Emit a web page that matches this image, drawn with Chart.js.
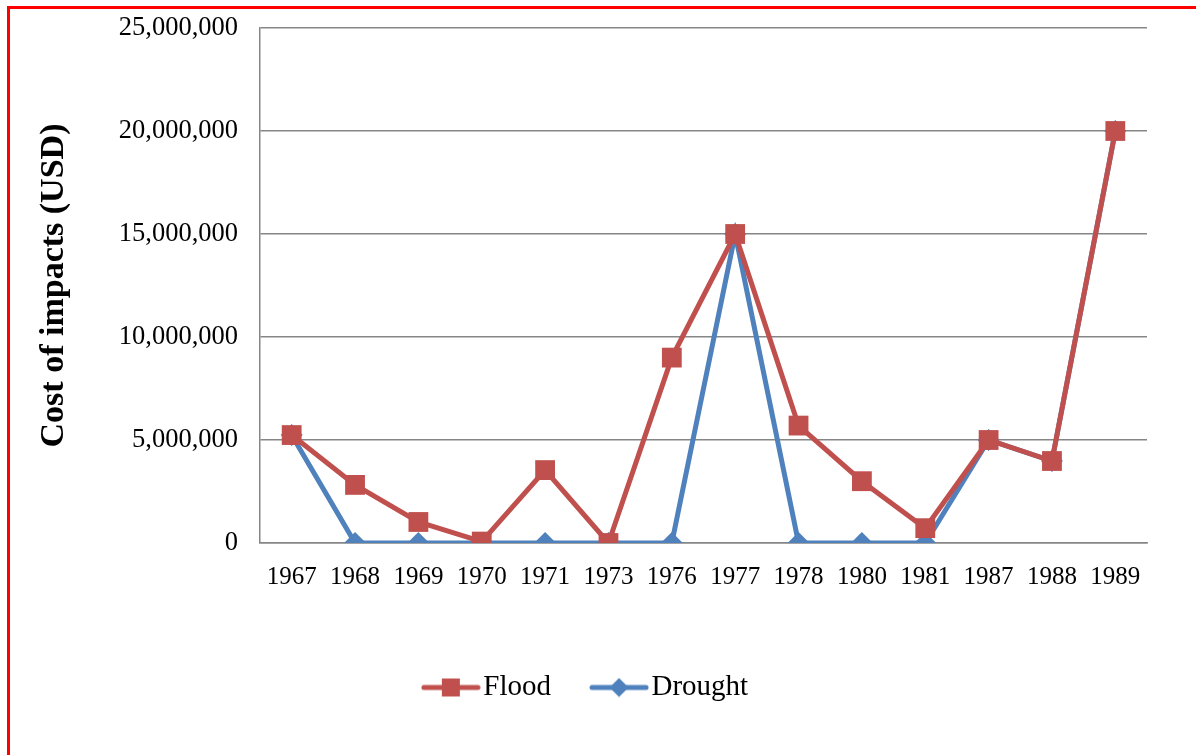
<!DOCTYPE html>
<html>
<head>
<meta charset="utf-8">
<script src="https://cdn.jsdelivr.net/npm/chart.js@4"></script>
<style>
  body { margin: 0; background: #fff; }
  .wrap { position: relative; width: 1196px; height: 755px; overflow: hidden; }
  .frame { position: absolute; left: 7px; top: 6px; width: 1300px; height: 900px; border-left: 3px solid #ff0000; border-top: 3px solid #ff0000; }
  canvas { position: absolute; left: 0; top: 0; }
</style>
</head>
<body>
<div class="wrap">
  <div class="frame"></div>
  <canvas id="myChart" width="1196" height="755"></canvas>
</div>
<script>
// years on the x axis
let years = ['1967','1968','1969','1970','1971','1973','1976','1977','1978','1980','1981','1987','1988','1989'];
// cost of impacts in USD
let flood   = [5240000, 2820000, 1020000, 70000, 3540000, 0, 9000000, 15000000, 5700000, 3000000, 720000, 5000000, 3980000, 20000000];
let drought = [5240000, 0, 0, 0, 0, 0, 0, 15000000, 0, 0, 0, 5000000, 3980000, 20000000];
let yTicks  = [0, 5000000, 10000000, 15000000, 20000000, 25000000];

const floodColor = '#C0504D';
const droughtColor = '#4F81BD';
const serif = "'Liberation Serif', 'Times New Roman', serif";

// little line+marker pictures for the legend
function legendIcon(color, shape) {
    let c = document.createElement('canvas');
    c.width = 60; c.height = 20;
    let g = c.getContext('2d');
    g.strokeStyle = color;
    g.lineWidth = 5;
    g.lineCap = 'round';
    g.beginPath(); g.moveTo(3, 10); g.lineTo(57, 10); g.stroke();
    g.fillStyle = color;
    if (shape === 'square') {
        g.fillRect(21, 1, 18, 18);
    } else {
        g.beginPath();
        g.moveTo(30, 0.5); g.lineTo(39.5, 10); g.lineTo(30, 19.5); g.lineTo(20.5, 10);
        g.closePath(); g.fill();
    }
    return c;
}
const floodIcon = legendIcon(floodColor, 'square');
const droughtIcon = legendIcon(droughtColor, 'diamond');

const data = {
    labels: years,
    datasets: [{
        label: 'Flood',
        data: flood,
        borderColor: floodColor,
        backgroundColor: floodColor,
        borderWidth: 5,
        pointStyle: 'rect',
        pointRadius: 14,
        pointBorderWidth: 0,
        tension: 0
    }, {
        label: 'Drought',
        data: drought,
        borderColor: droughtColor,
        backgroundColor: droughtColor,
        borderWidth: 5,
        pointStyle: 'rectRot',
        pointRadius: 11,
        pointBorderWidth: 0,
        tension: 0
    }]
};

const config = {
    type: 'line',
    data: data,
    options: {
        responsive: false,
        animation: false,
        layout: { padding: { left: 34, top: 28, right: 49, bottom: 43 } },
        scales: {
            x: {
                offset: true,
                grid: { display: false, drawTicks: false },
                border: { color: '#868686', width: 1.5 },
                ticks: { color: '#000', padding: 19, font: { family: serif, size: 25 }, maxRotation: 0, autoSkip: false },
                afterFit: function(scale) { scale.height = 80; }
            },
            y: {
                min: 0,
                max: 25000000,
                afterBuildTicks: function(scale) { scale.ticks = yTicks.map(v => ({ value: v })); },
                grid: { color: '#868686', lineWidth: 1.5, drawTicks: false },
                border: { color: '#868686', width: 1.5 },
                ticks: {
                    color: '#000', padding: 22,
                    font: { family: serif, size: 26.5 },
                    callback: function(v) { return v.toLocaleString('en-US'); }
                },
                title: {
                    display: true,
                    text: 'Cost of impacts (USD)',
                    color: '#000',
                    font: { family: serif, size: 34, weight: 'bold' },
                    padding: { top: 0, bottom: 0 }
                },
                afterFit: function(scale) {
                    scale.width = 226;
                    scale.paddingTop = 0;
                    scale.paddingBottom = 0;
                }
            }
        },
        plugins: {
            legend: {
                position: 'bottom',
                labels: {
                    color: '#000',
                    font: { family: serif, size: 29 },
                    usePointStyle: true,
                    pointStyleWidth: 36,
                    padding: 50,
                    generateLabels: function(chart) {
                        return chart.data.datasets.map((ds, i) => ({
                            text: ds.label,
                            pointStyle: i === 0 ? floodIcon : droughtIcon,
                            fillStyle: ds.borderColor,
                            strokeStyle: ds.borderColor,
                            lineWidth: 0,
                            hidden: false,
                            datasetIndex: i,
                            fontColor: '#000'
                        }));
                    }
                }
            },
            tooltip: { enabled: false }
        }
    }
};

const chart1 = new Chart(document.getElementById('myChart').getContext('2d'), config);
</script>
</body>
</html>
